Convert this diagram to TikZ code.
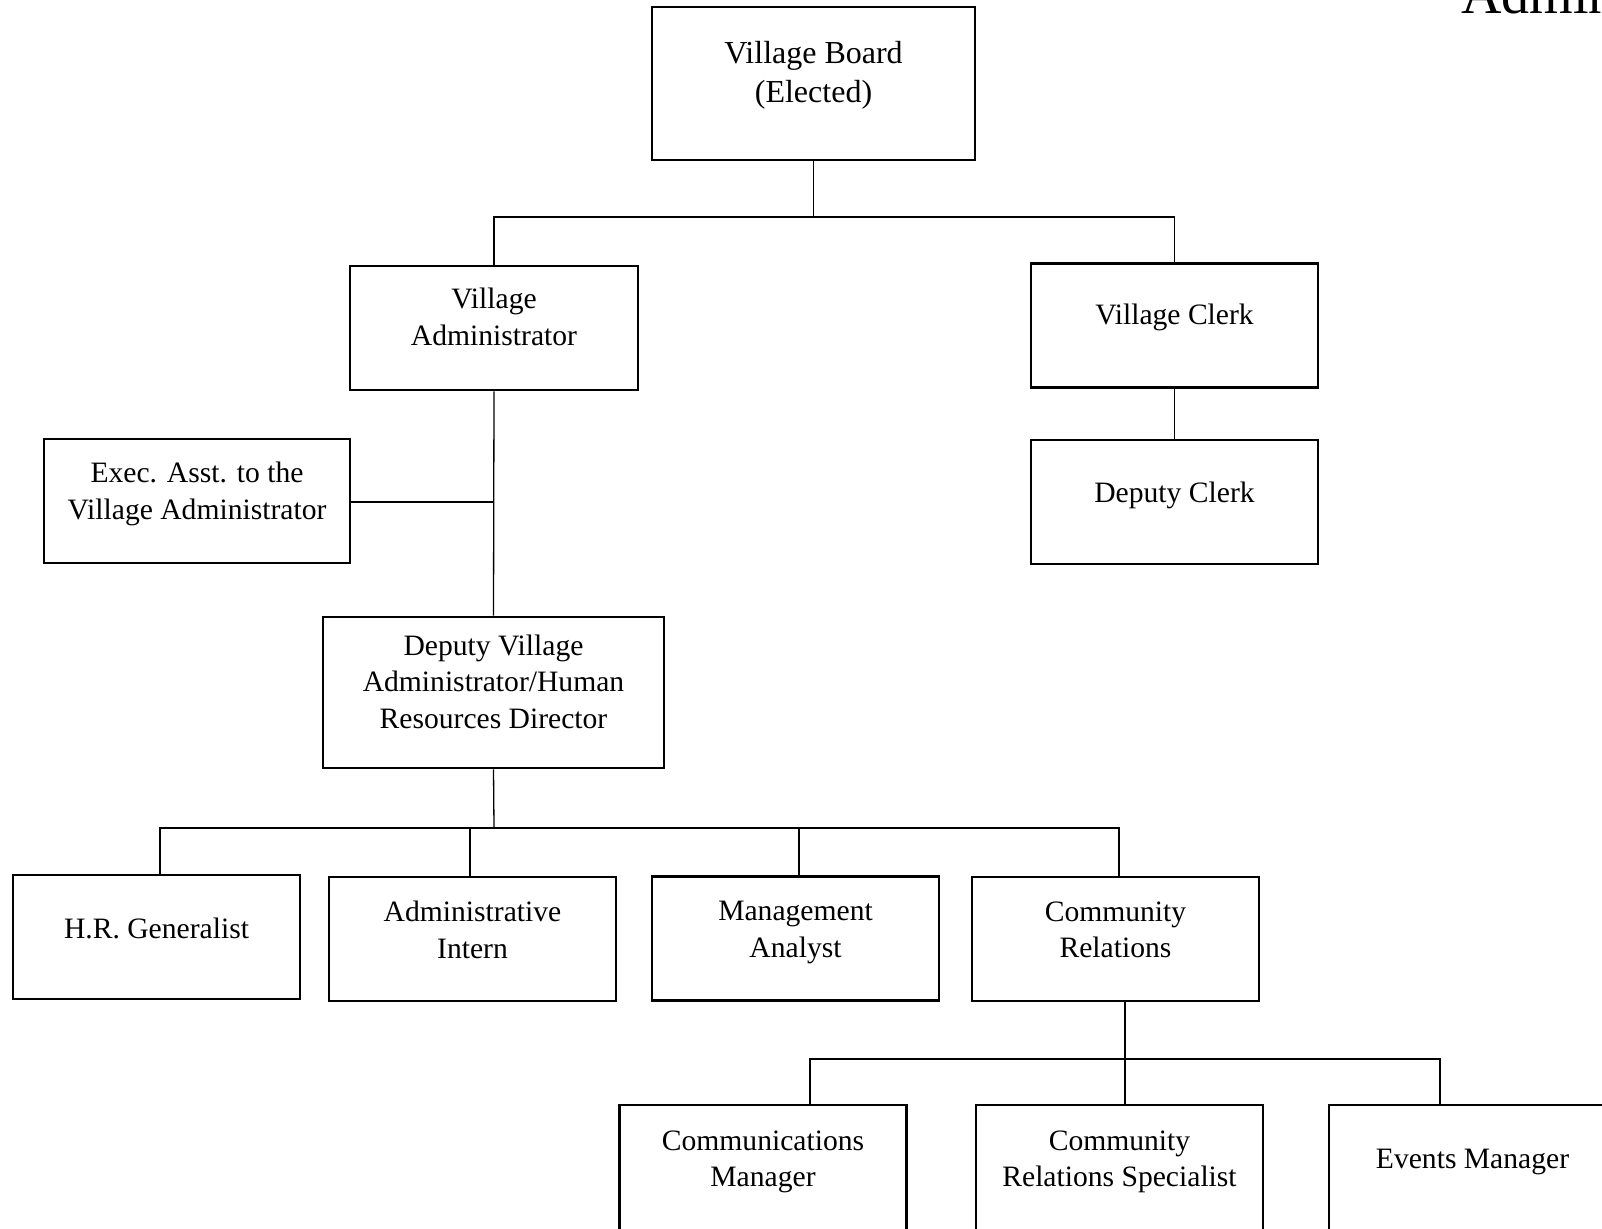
\documentclass[tikz,border=0pt]{standalone}
\usepackage{fontspec}
\setmainfont{Liberation Serif}
\begin{document}
\begin{tikzpicture}[x=1pt,y=-1pt,
  box/.style={draw, line width=2.6pt, minimum width=287pt, minimum height=124pt, inner sep=0pt},
  txt/.style={align=center, font=\fontsize{29.6}{36.6}\selectfont, inner sep=0pt},
  conn/.style={line width=1.3pt}]
\clip (0,0) rectangle (1602,1228);
\useasboundingbox (0,0) rectangle (1602,1228);

% title (cut by the page edge, as in the reference)
\node[anchor=base west, font=\fontsize{56}{60}\selectfont, inner sep=0pt] (title) at (1461,14) {Admin};

% boxes
\node[box, minimum width=323pt, minimum height=153pt] (vb) at (813.5,83.5) {};
\node[box, minimum width=288pt] (va) at (494,328) {};
\node[box] (vc) at (1174.5,325.5) {};
\node[box] (dc) at (1174.5,502) {};
\node[box, minimum width=306pt] (ea) at (197,501) {};
\node[box, minimum width=341pt, minimum height=151pt] (dva) at (493.5,692.5) {};
\node[box] (hr) at (156.5,937) {};
\node[box] (ai) at (472.5,939) {};
\node[box] (ma) at (795.5,938.5) {};
\node[box] (cr) at (1115.5,939) {};
\node[box, minimum height=170pt] (cm) at (763,1190) {};
\node[box, minimum height=170pt] (crs) at (1119.5,1190) {};
\node[box, minimum height=170pt] (em) at (1472.5,1190) {};

% texts
\node[txt, font=\fontsize{32}{39}\selectfont] (vbx) at ([yshift=8pt]vb.center) {Village Board\\(Elected)};
\node[txt] (vax) at ([yshift=11pt]va.center) {Village\\Administrator};
\node[txt] (vcx) at ([yshift=8pt]vc.center) {Village Clerk};
\node[txt] (dcx) at ([yshift=7pt]dc.center) {Deputy Clerk};
\node[txt] (eax) at ([yshift=7pt]ea.center) {Exec. Asst. to the\\Village Administrator};
\node[txt] (dvax) at ([yshift=11pt]dva.center) {Deputy Village\\Administrator/Human\\Resources Director};
\node[txt] (hrx) at ([yshift=9pt]hr.center) {H.R. Generalist};
\node[txt] (aix) at ([yshift=9pt]ai.center) {Administrative\\Intern};
\node[txt] (max) at ([yshift=6pt]ma.center) {Management\\Analyst};
\node[txt] (crx) at ([yshift=9pt]cr.center) {Community\\Relations};
\node[txt] (cmx) at ([yshift=-58pt]cm.north) {Communications\\Manager};
\node[txt] (crsx) at ([yshift=-58pt]crs.north) {Community\\Relations Specialist};
\node[txt] (emx) at ([yshift=-58pt]em.north) {Events Manager};

% connectors
\coordinate (b1) at (813.5,217);
\draw[conn] (vb.south) -- (b1);
\draw[conn] (va.north) |- (b1) -| (vc.north);
\draw[conn] (va.south) -- (dva.north);
\coordinate (j1) at (494,502);
\draw[conn] (ea.east |- j1) -- (j1);
\draw[conn] (vc.south) -- (dc.north);

\coordinate (b2) at (494,828);
\draw[conn] (dva.south) -- (b2);
\draw[conn] ([xshift=3.5pt]hr.north) |- (b2) -| ([xshift=3.5pt]cr.north);
\draw[conn] ([xshift=-2.5pt]ai.north) -- ([xshift=-2.5pt]ai.north |- b2);
\draw[conn] ([xshift=3.5pt]ma.north) -- ([xshift=3.5pt]ma.north |- b2);

\coordinate (b3) at (1125,1059);
\draw[conn] ([xshift=9.5pt]cr.south) -- ([xshift=9.5pt]cr.south |- crs.north);
\draw[conn] ([xshift=47pt]cm.north) |- (b3) -| ([xshift=-32.5pt]em.north);
\end{tikzpicture}
\end{document}
